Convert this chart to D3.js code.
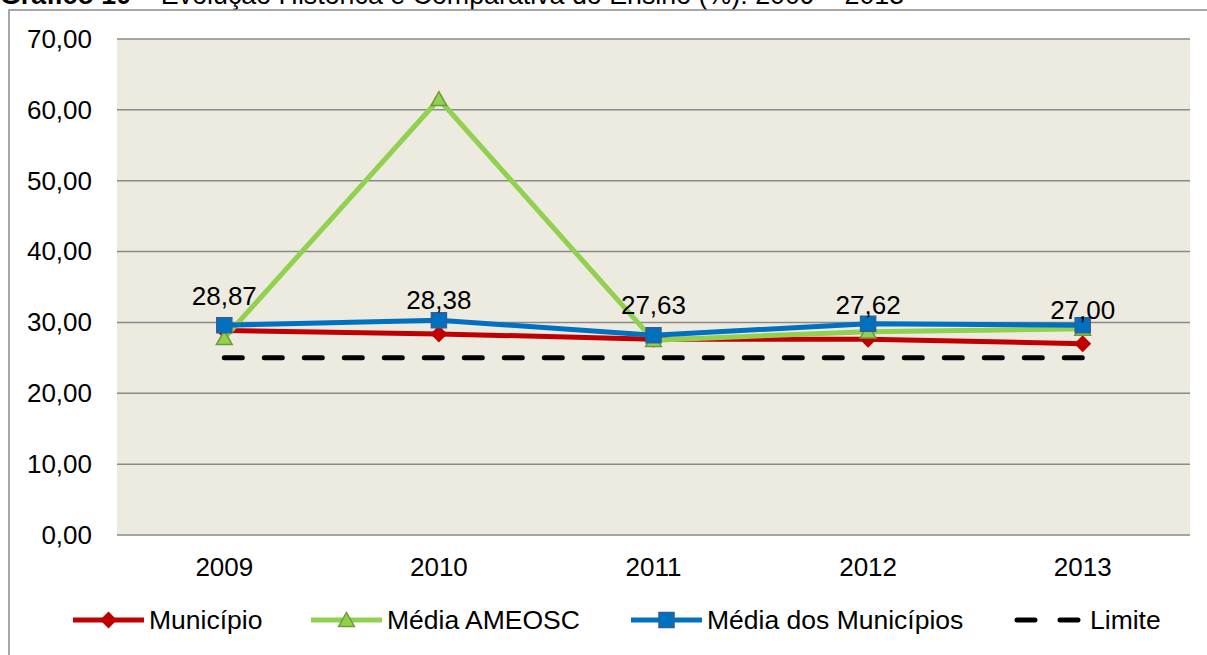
<!DOCTYPE html>
<html>
  <head>
    <meta charset="utf-8" />
    <title>Gráfico 10</title>
    <script src="https://d3js.org/d3.v7.min.js"></script>
    <style>
        body {
            margin:0;
            background:#fff;
        }
        text {
            font-family: "Liberation Sans", Arial, sans-serif;
        }
    </style>
  </head>
  <body>
    <svg id="viz"></svg>

    <script>
    var width = 1207;
    var height = 655;

    // data
    var years = ["2009", "2010", "2011", "2012", "2013"];
    var municipio = [28.87, 28.38, 27.63, 27.62, 27.00];
    var mediaAmeosc = [27.8, 61.5, 27.5, 28.7, 29.1];
    var mediaMunicipios = [29.6, 30.3, 28.2, 29.8, 29.6];
    var limite = [25, 25, 25, 25, 25];
    var yTicks = [0, 10, 20, 30, 40, 50, 60, 70];

    var svg = d3.select("#viz")
      .attr("width", width)
      .attr("height", height);

    var fmt = function(v){ return d3.format(".2f")(v).replace(".", ","); };

    // title (cut off at the top of the picture, as in the source)
    var title = svg.append("text")
      .attr("x", 0)
      .attr("y", 4)
      .attr("font-size", "26.8px")
      .attr("fill", "#000");
    title.append("tspan").attr("font-weight", "bold").text("Gráfico 10");
    title.append("tspan").text(" – Evolução Histórica e Comparativa do Ensino (%): 2009 – 2013");

    // outer chart border
    svg.append("rect")
      .attr("x", 9)
      .attr("y", 10)
      .attr("width", 1210)
      .attr("height", 700)
      .attr("fill", "#fff")
      .attr("stroke", "#8c8c8c")
      .attr("stroke-width", 1.5);

    var plot = {left: 117, right: 1190, top: 39, bottom: 535};

    var x = d3.scaleBand()
      .domain(years)
      .range([plot.left, plot.right])
      .padding(0);

    var y = d3.scaleLinear()
      .domain([0, 70])
      .range([plot.bottom, plot.top]);

    var cx = function(d, i){ return x(years[i]) + x.bandwidth() / 2; };

    svg.append("rect")
      .attr("x", plot.left)
      .attr("y", plot.top)
      .attr("width", plot.right - plot.left)
      .attr("height", plot.bottom - plot.top)
      .attr("fill", "#edeae0");

    // gridlines
    svg.append("g")
      .selectAll("line")
      .data(yTicks)
      .enter().append("line")
      .attr("x1", plot.left)
      .attr("x2", plot.right)
      .attr("y1", function(d){ return y(d); })
      .attr("y2", function(d){ return y(d); })
      .attr("stroke", "#8a8a8a")
      .attr("stroke-width", 1.5);

    // y axis labels
    var yAxis = d3.axisLeft(y)
      .tickValues(yTicks)
      .tickFormat(fmt)
      .tickSize(0)
      .tickPadding(25);
    var gy = svg.append("g")
      .attr("transform", "translate(" + plot.left + ",0)")
      .call(yAxis);
    gy.select(".domain").remove();
    gy.selectAll("text")
      .attr("font-family", "Liberation Sans, Arial, sans-serif")
      .attr("font-size", "26px")
      .attr("fill", "#000");

    // x axis labels
    var xAxis = d3.axisBottom(x).tickSize(0).tickPadding(23);
    var gx = svg.append("g")
      .attr("transform", "translate(0," + plot.bottom + ")")
      .call(xAxis);
    gx.select(".domain").remove();
    gx.selectAll("text")
      .attr("font-family", "Liberation Sans, Arial, sans-serif")
      .attr("font-size", "26px")
      .attr("fill", "#000");

    var line = d3.line()
      .x(cx)
      .y(function(d){ return y(d); });

    // limite dashed line
    svg.append("path")
      .datum(limite)
      .attr("d", line)
      .attr("fill", "none")
      .attr("stroke", "#000")
      .attr("stroke-width", 5)
      .attr("stroke-linecap", "round")
      .attr("stroke-dasharray", "18,22");

    function diamond(s){ return "M0," + (-s) + "L" + s + ",0L0," + s + "L" + (-s) + ",0Z"; }
    function square(s){ return "M" + (-s) + "," + (-s) + "h" + (2*s) + "v" + (2*s) + "h" + (-2*s) + "Z"; }
    function triangle(s){ return "M0," + (-s) + "L" + (s*1.05) + "," + (s*0.85) + "L" + (-s*1.05) + "," + (s*0.85) + "Z"; }

    var series = [
      {name: "Município", values: municipio, color: "#c00000", marker: diamond(8.5), fill: "#c00000", stroke: "none"},
      {name: "Média AMEOSC", values: mediaAmeosc, color: "#92d050", marker: triangle(7.5), fill: "#92d050", stroke: "#6f9a35"},
      {name: "Média dos Municípios", values: mediaMunicipios, color: "#0070c0", marker: square(7.5), fill: "#0070c0", stroke: "#2f5f97"}
    ];

    series.forEach(function(s){
      svg.append("path")
        .datum(s.values)
        .attr("d", line)
        .attr("fill", "none")
        .attr("stroke", s.color)
        .attr("stroke-width", 5)
        .attr("stroke-linejoin", "round");
      svg.append("g")
        .selectAll("path")
        .data(s.values)
        .enter().append("path")
        .attr("d", s.marker)
        .attr("transform", function(d, i){ return "translate(" + cx(d, i) + "," + y(d) + ")"; })
        .attr("fill", s.fill)
        .attr("stroke", s.stroke)
        .attr("stroke-width", 1.5);
    });

    // data labels for Município
    svg.append("g")
      .selectAll("text")
      .data(municipio)
      .enter().append("text")
      .attr("x", cx)
      .attr("y", function(d){ return y(d) - 25; })
      .attr("text-anchor", "middle")
      .attr("font-size", "26px")
      .attr("fill", "#000")
      .text(fmt);

    // legend
    var legendItems = [
      {name: "Município", x: 73, s: series[0]},
      {name: "Média AMEOSC", x: 311, s: series[1]},
      {name: "Média dos Municípios", x: 631, s: series[2]},
      {name: "Limite", x: 1014, s: null}
    ];
    var ly = 620;
    var lg = svg.append("g");
    legendItems.forEach(function(it){
      if (it.s) {
        lg.append("line")
          .attr("x1", it.x).attr("x2", it.x + 71)
          .attr("y1", ly).attr("y2", ly)
          .attr("stroke", it.s.color)
          .attr("stroke-width", 5);
        lg.append("path")
          .attr("d", it.s.marker)
          .attr("transform", "translate(" + (it.x + 35.5) + "," + ly + ")")
          .attr("fill", it.s.fill)
          .attr("stroke", it.s.stroke)
          .attr("stroke-width", 1.5);
      } else {
        lg.append("line")
          .attr("x1", it.x + 3).attr("x2", it.x + 68)
          .attr("y1", ly).attr("y2", ly)
          .attr("stroke", "#000")
          .attr("stroke-width", 5)
          .attr("stroke-linecap", "round")
          .attr("stroke-dasharray", "18,25");
      }
      lg.append("text")
        .attr("x", it.x + 76)
        .attr("y", ly)
        .attr("dy", "0.35em")
        .attr("font-size", "26.5px")
        .attr("fill", "#000")
        .text(it.name);
    });
    </script>
  </body>
</html>
